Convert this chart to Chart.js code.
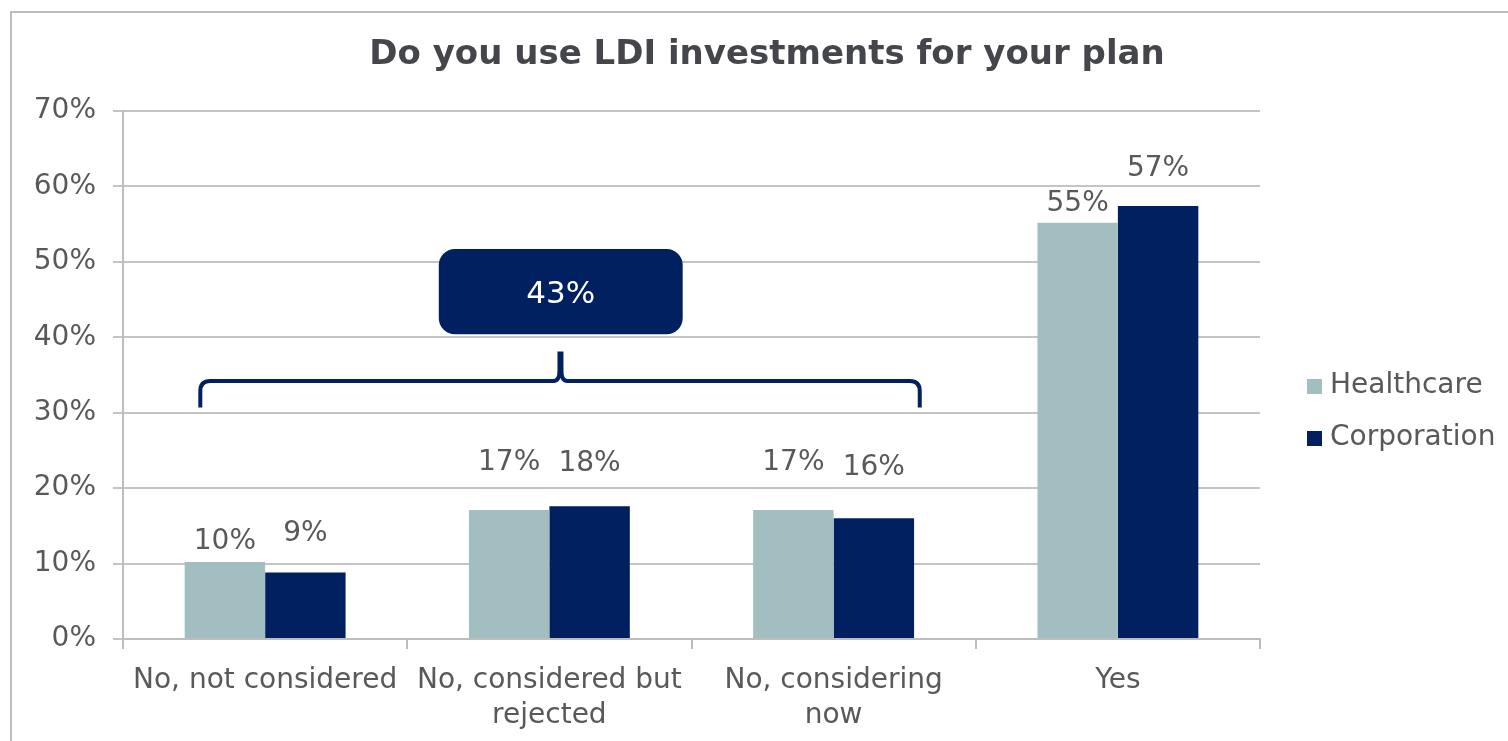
<!DOCTYPE html>
<html>
<head>
<meta charset="utf-8">
<title>LDI investments</title>
<script src="https://cdn.jsdelivr.net/npm/chart.js@4.4.1/dist/chart.umd.min.js"></script>
<style>
  html, body { margin: 0; padding: 0; background: #fff; }
  canvas { display: block; }
</style>
</head>
<body>
<canvas id="ldiChart" width="1508" height="741"></canvas>
<script>
// Survey answers and shares per group
const categories = [["No, not considered"], ["No, considered but", "rejected"], ["No, considering", "now"], ["Yes"]];
const seriesNames = ["Healthcare", "Corporation"];
const healthcare = [10.2, 17.1, 17.1, 55.2];
const corporation = [8.8, 17.6, 16.0, 57.4];
const yTicks = [0, 10, 20, 30, 40, 50, 60, 70];
const calloutText = "43%";

const TITLE = "Do you use LDI investments for your plan";
const FONT = "'DejaVu Sans', Verdana, sans-serif";
const TEXT_GRAY = "#595959";
const NAVY = "#002060";
const TEAL = "#A2BEC0";

// how far each value label sits above its bar (px)
const labelLift = [[20, 47, 47, 19], [39, 43, 51, 37]];

// frame, title, value labels, brace, callout box and legend
const decorPlugin = {
    id: 'decor',
    beforeDraw(chart) {
        const ctx = chart.ctx;
        ctx.save();
        ctx.fillStyle = '#fff';
        ctx.fillRect(0, 0, chart.width, chart.height);
        ctx.strokeStyle = '#BDBDBD';
        ctx.lineWidth = 2;
        ctx.strokeRect(11, 12, 1600, 800);
        ctx.restore();
    },
    afterDatasetsDraw(chart) {
        const ctx = chart.ctx;
        const x = chart.scales.x;
        const y = chart.scales.y;
        ctx.save();

        // title
        ctx.fillStyle = '#44464C';
        ctx.font = "bold 34px " + FONT;
        ctx.textAlign = 'center';
        ctx.textBaseline = 'middle';
        ctx.fillText(TITLE, 767, 55);

        // value labels above the bars
        ctx.font = "28px " + FONT;
        ctx.fillStyle = TEXT_GRAY;
        chart.data.datasets.forEach((ds, di) => {
            chart.getDatasetMeta(di).data.forEach((bar, i) => {
                ctx.fillText(Math.round(ds.data[i]) + '%', bar.x, bar.y - labelLift[di][i]);
            });
        });

        // brace grouping the three "No" answers
        const left = x.getPixelForValue(-0.228);
        const right = x.getPixelForValue(2.303);
        const mid = x.getPixelForValue(1.039);
        const yh = y.getPixelForValue(34.2);
        const yEnd = y.getPixelForValue(30.7);
        const yTip = y.getPixelForValue(38.1);
        ctx.strokeStyle = NAVY;
        ctx.lineWidth = 4;
        ctx.lineCap = 'butt';
        ctx.beginPath();
        ctx.moveTo(left, yEnd);
        ctx.lineTo(left, yh + 10);
        ctx.quadraticCurveTo(left, yh, left + 10, yh);
        ctx.lineTo(mid - 7, yh);
        ctx.quadraticCurveTo(mid - 1, yh, mid - 1, yh - 10);
        ctx.lineTo(mid - 1, yTip);
        ctx.moveTo(mid + 1, yTip);
        ctx.lineTo(mid + 1, yh - 10);
        ctx.quadraticCurveTo(mid + 1, yh, mid + 7, yh);
        ctx.lineTo(right - 10, yh);
        ctx.quadraticCurveTo(right, yh, right, yh + 10);
        ctx.lineTo(right, yEnd);
        ctx.stroke();

        // callout box
        const bx0 = x.getPixelForValue(0.611);
        const bx1 = x.getPixelForValue(1.469);
        const by0 = y.getPixelForValue(51.7);
        const by1 = y.getPixelForValue(40.4);
        ctx.fillStyle = NAVY;
        ctx.beginPath();
        ctx.roundRect(bx0, by0, bx1 - bx0, by1 - by0, 16);
        ctx.fill();
        ctx.fillStyle = '#fff';
        ctx.font = "31px " + FONT;
        ctx.fillText(calloutText, (bx0 + bx1) / 2, (by0 + by1) / 2 + 3);

        // legend
        ctx.font = "28px " + FONT;
        ctx.textAlign = 'left';
        chart.data.datasets.forEach((ds, di) => {
            const cy = 386 + di * 52;
            ctx.fillStyle = ds.backgroundColor;
            ctx.fillRect(1307, cy - 7, 15, 15);
            ctx.fillStyle = TEXT_GRAY;
            ctx.fillText(ds.label, 1330, cy);
        });
        ctx.restore();
    }
};

new Chart(document.getElementById('ldiChart').getContext('2d'), {
    type: 'bar',
    data: {
        labels: categories,
        datasets: [
            { label: seriesNames[0], data: healthcare, backgroundColor: TEAL, borderWidth: 0 },
            { label: seriesNames[1], data: corporation, backgroundColor: NAVY, borderWidth: 0 }
        ]
    },
    options: {
        responsive: false,
        animation: false,
        events: [],
        layout: { padding: { top: 111, right: 248, bottom: 0, left: 0 } },
        datasets: { bar: { categoryPercentage: 0.566, barPercentage: 1.0 } },
        plugins: {
            legend: { display: false },
            title: { display: false },
            tooltip: { enabled: false }
        },
        scales: {
            x: {
                afterFit(scale) { scale.height = 102; },
                grid: {
                    offset: true,
                    drawOnChartArea: false,
                    drawTicks: true,
                    tickLength: 10,
                    color: '#BDBDBD',
                    lineWidth: 2
                },
                border: { display: true, color: '#BDBDBD', width: 2 },
                ticks: {
                    color: TEXT_GRAY,
                    font: { family: FONT, size: 28, lineHeight: 1.22 },
                    padding: 15,
                    maxRotation: 0,
                    autoSkip: false
                }
            },
            y: {
                min: yTicks[0],
                max: yTicks[yTicks.length - 1],
                afterFit(scale) { scale.width = 123; },
                afterBuildTicks(scale) { scale.ticks = yTicks.map(v => ({ value: v })); },
                grid: {
                    color: '#C4C4C4',
                    lineWidth: 2,
                    drawTicks: true,
                    tickLength: 10
                },
                border: { display: true, color: '#BDBDBD', width: 2 },
                ticks: {
                    color: TEXT_GRAY,
                    font: { family: FONT, size: 28 },
                    padding: 17,
                    callback: v => v + '%'
                }
            }
        }
    },
    plugins: [decorPlugin]
});
</script>
</body>
</html>
